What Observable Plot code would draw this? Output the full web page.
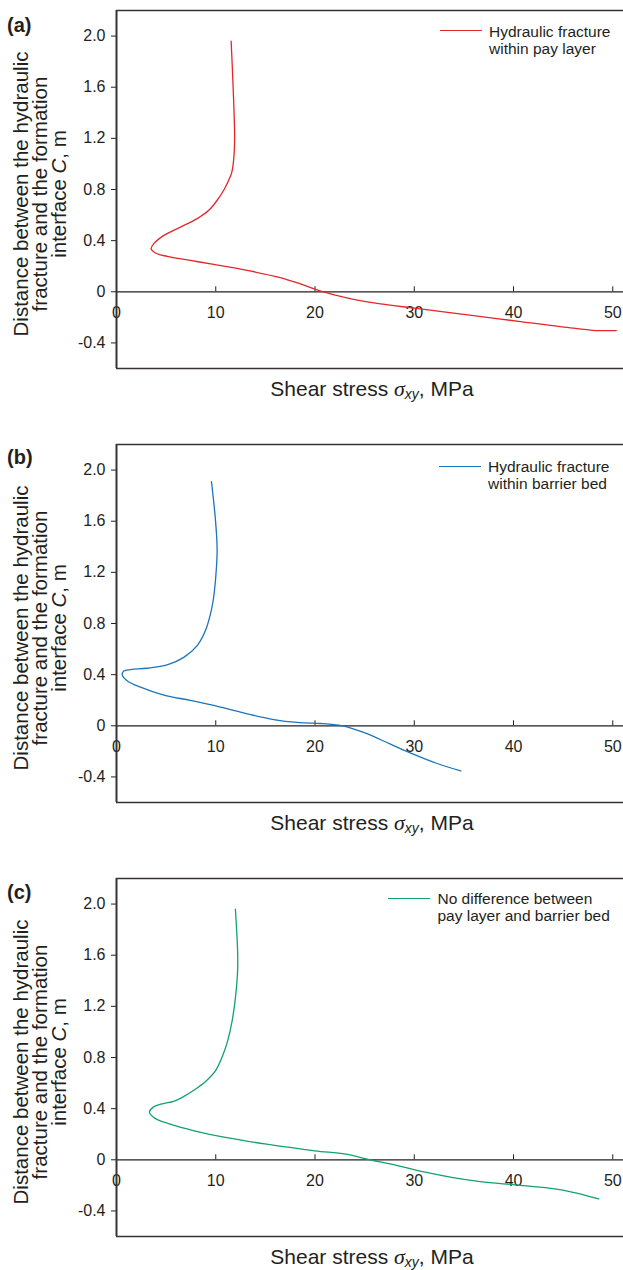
<!DOCTYPE html>
<html><head><meta charset="utf-8">
<script src="https://cdn.jsdelivr.net/npm/d3@7"></script>
<script src="https://cdn.jsdelivr.net/npm/@observablehq/plot@0.6"></script>
<style>
html,body{margin:0;padding:0;background:#fff;overflow:hidden;}
body{width:623px;height:1270px;font-family:"Liberation Sans",Arial,sans-serif;color:#231f20;}
.panel{position:relative;width:623px;height:434px;overflow:hidden;}
.panel svg{position:absolute;left:0;top:0;}
.plabel{position:absolute;left:7px;font-weight:bold;font-size:20px;line-height:20px;}
.ytitle{position:absolute;left:39px;top:194px;transform:translate(-50%,-50%) rotate(-90deg);white-space:nowrap;text-align:center;font-size:20.5px;line-height:19px;}
.xtitle{position:absolute;left:372px;top:390px;transform:translate(-50%,-50%);font-size:21px;line-height:24px;white-space:nowrap;}
.sig{font-family:"Liberation Serif","Times New Roman",serif;font-style:italic;font-size:22px;}
.sub{font-style:italic;font-size:14px;position:relative;top:3px;}
.legend{position:absolute;font-size:15.5px;line-height:17px;white-space:nowrap;}
.swatch{position:absolute;height:0;width:42px;}
</style>
</head><body>
<div id="root"></div>
<script>
// ---- data ----
const xTicks = [0, 10, 20, 30, 40, 50];
const yTicks = [-0.4, 0, 0.4, 0.8, 1.2, 1.6, 2.0];
const xDomain = [0, 51.08];
const yDomain = [-0.6, 2.2];

const panelLabels = ["(a)", "(b)", "(c)"];
const legendLabels = [
  ["Hydraulic fracture", "within pay layer"],
  ["Hydraulic fracture", "within barrier bed"],
  ["No difference between", "pay layer and barrier bed"]
];
const seriesColors = ["#e4262c", "#1c75bc", "#12a26e"];

// (a) hydraulic fracture within pay layer
const aStress = [11.55, 11.75, 11.9, 11.8, 11.6, 11.3, 10.8, 10.14, 9.3, 8.13, 6.44, 4.77, 3.76, 3.49, 3.93, 5.1, 7.45, 9.8, 13.16, 16.4, 18.6, 20.5, 23.2, 26.6, 30.0, 35.0, 40.7, 46.0, 48.3, 50.35];
const aDist   = [1.96, 1.6, 1.2, 1.03, 0.93, 0.872, 0.794, 0.716, 0.637, 0.572, 0.506, 0.441, 0.376, 0.337, 0.303, 0.277, 0.245, 0.214, 0.167, 0.113, 0.06, 0.008, -0.047, -0.094, -0.128, -0.177, -0.233, -0.285, -0.303, -0.303];

// (b) hydraulic fracture within barrier bed
const bStress = [9.57, 9.97, 10.14, 9.97, 9.74, 9.47, 8.96, 8.13, 6.78, 5.1, 3.09, 1.41, 0.74, 0.57, 1.07, 2.42, 4.77, 7.45, 10.47, 13.16, 15.84, 18.2, 20.5, 21.5, 22.9, 24.9, 27.6, 29.9, 32.3, 34.7];
const bDist   = [1.909, 1.61, 1.37, 1.136, 0.98, 0.875, 0.745, 0.627, 0.535, 0.476, 0.45, 0.44, 0.428, 0.40, 0.353, 0.302, 0.24, 0.198, 0.146, 0.094, 0.049, 0.026, 0.018, 0.013, -0.002, -0.052, -0.143, -0.222, -0.295, -0.353];

// (c) no difference between pay layer and barrier bed
const cStress = [11.98, 12.2, 12.2, 11.98, 11.65, 11.2, 10.7, 10.0, 9.0, 7.9, 6.79, 5.75, 4.71, 3.67, 3.32, 3.84, 5.41, 7.83, 10.96, 15.13, 19.99, 23.1, 25.55, 28.3, 31.1, 33.9, 36.66, 40.13, 43.6, 46.0, 48.6];
const cDist   = [1.96, 1.632, 1.476, 1.266, 1.086, 0.93, 0.815, 0.7, 0.615, 0.55, 0.496, 0.457, 0.44, 0.41, 0.373, 0.326, 0.279, 0.227, 0.175, 0.122, 0.07, 0.044, 0.0, -0.045, -0.097, -0.139, -0.17, -0.196, -0.222, -0.254, -0.306];

const series = [[aStress, aDist], [bStress, bDist], [cStress, cDist]];
const legendPos = [
  {sx: 440, sy: 31, tx: 489},
  {sx: 439, sy: 32.7, tx: 488},
  {sx: 388, sy: 30.3, tx: 437.5}
];
const labelTops = [15, 13, 14];
const ink = "#231f20";
const frameInk = "#3a3232";

const root = document.getElementById("root");

series.forEach(([xs, ys], k) => {
  const rows = xs.map((x, i) => ({x, y: ys[i]}));
  const panel = document.createElement("div");
  panel.className = "panel";
  if (k === 2) panel.style.height = (1270 - 868) + "px";

  const chart = Plot.plot({
    width: 623,
    height: 434,
    marginLeft: 116,
    marginRight: 0,
    marginTop: 10,
    marginBottom: 66,
    style: {fontFamily: "'Liberation Sans', Arial, sans-serif", fontSize: "16px", color: ink, background: "transparent"},
    x: {domain: xDomain, axis: null},
    y: {domain: yDomain},
    marks: [
      Plot.ruleY([yDomain[1]], {stroke: frameInk, strokeWidth: 1.4}),
      Plot.ruleY([yDomain[0]], {stroke: frameInk, strokeWidth: 1.4}),
      Plot.ruleY([0], {stroke: ink, strokeWidth: 1.2}),
      Plot.ruleX(xTicks, {x: d => d, y1: 0, y2: 0, insetTop: -5, stroke: ink, strokeWidth: 1}),
      Plot.text(xTicks, {x: d => d, y: 0, dy: 21, text: d => String(d), fill: ink, fontSize: 16}),
      Plot.axisY({ticks: yTicks, tickSize: 5, tickPadding: 6, fontSize: 16, label: null,
        tickFormat: d => d === 0 ? "0" : (d < 0 ? "-" + Math.abs(d).toFixed(1) : d.toFixed(1)),
        stroke: ink, fill: ink}),
      Plot.ruleX([0], {stroke: frameInk, strokeWidth: 2}),
      Plot.line(rows, {x: "x", y: "y", stroke: seriesColors[k], strokeWidth: 1.3, curve: "catmull-rom"})
    ]
  });
  panel.appendChild(chart);

  const pl = document.createElement("div");
  pl.className = "plabel";
  pl.style.top = labelTops[k] + "px";
  pl.textContent = panelLabels[k];
  panel.appendChild(pl);

  const yt = document.createElement("div");
  yt.className = "ytitle";
  yt.innerHTML = "Distance between the hydraulic<br>fracture and the formation<br>interface <i>C</i>, m";
  panel.appendChild(yt);

  const xt = document.createElement("div");
  xt.className = "xtitle";
  xt.innerHTML = 'Shear stress <span class="sig">σ</span><span class="sub">xy</span>, MPa';
  panel.appendChild(xt);

  const lp = legendPos[k];
  const sw = document.createElement("div");
  sw.className = "swatch";
  sw.style.left = lp.sx + "px";
  sw.style.top = (lp.sy - 0.75) + "px";
  sw.style.borderTop = "1.5px solid " + seriesColors[k];
  panel.appendChild(sw);

  const lg = document.createElement("div");
  lg.className = "legend";
  lg.style.left = lp.tx + "px";
  lg.style.top = (lp.sy - 8.5) + "px";
  lg.innerHTML = legendLabels[k].join("<br>");
  panel.appendChild(lg);

  root.appendChild(panel);
});
</script>
</body></html>
